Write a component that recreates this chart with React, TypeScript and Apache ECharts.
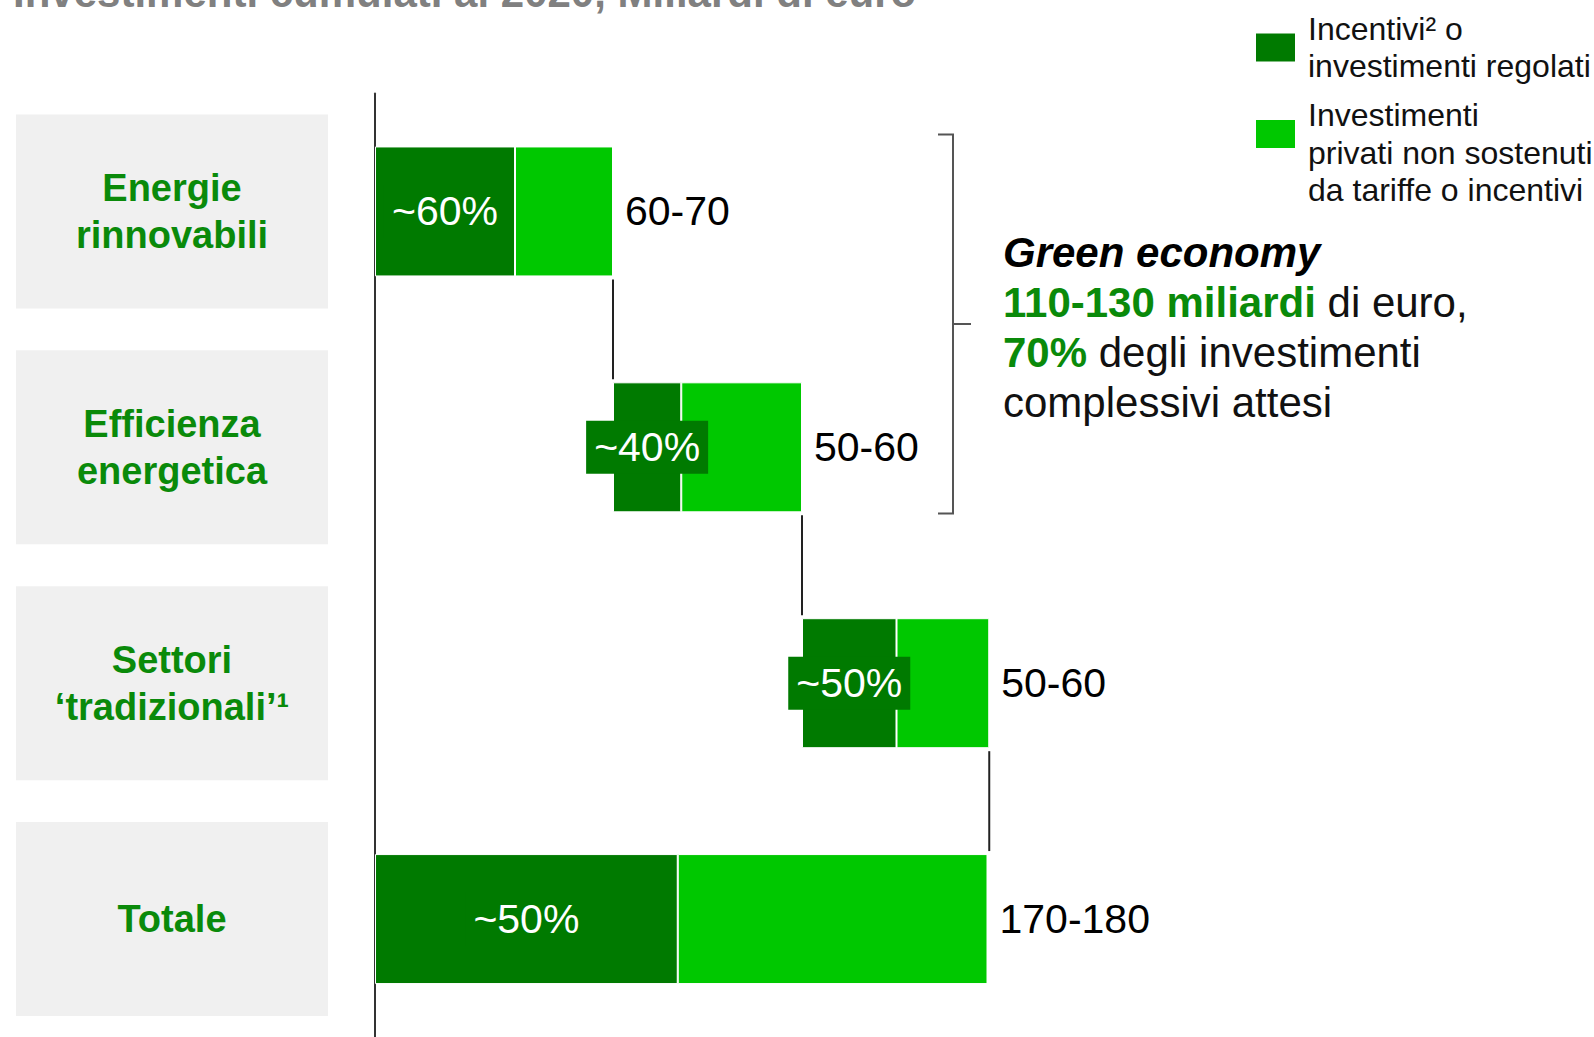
import React, { useEffect, useRef } from "react";
import * as echarts from "echarts";

const FONT = "'Liberation Sans', Arial, Helvetica, sans-serif";

const titleText = "Investimenti cumulati al 2020, Miliardi di euro";
const categories = ["Energie\nrinnovabili", "Efficienza\nenergetica", "Settori\n‘tradizionali’¹", "Totale"];
const regulatedValues = [40, 19.5, 27, 86.5];
const privateValues = [28, 34.5, 26.5, 88.5];
const shareLabels = ["~60%", "~40%", "~50%", "~50%"];
const rangeLabels = ["60-70", "50-60", "50-60", "170-180"];
const seriesNames = [
  "Incentivi² o\ninvestimenti regolati",
  "Investimenti\nprivati non sostenuti\nda tariffe o incentivi",
];
const noteText =
  "{b|Green economy}\n{g|110-130 miliardi}{n| di euro,}\n{g|70%}{n| degli investimenti}\n{n|complessivi attesi}";

const DARK = "#007a00";
const LIGHT = "#00c800";
const TEXT_GREEN = "#0a8a0a";
const BAR_W = 130;

export default function App() {
  const ref = useRef<HTMLDivElement>(null);

  useEffect(() => {
    if (!ref.current) return;
    const chart = echarts.init(ref.current, undefined, { renderer: "svg" });

    const last = categories.length - 1;
    const totals = regulatedValues.map((v, i) => v + privateValues[i]);
    const offsets: number[] = [];
    let acc = 0;
    categories.forEach((_, i) => {
      if (i === last) {
        offsets.push(0);
      } else {
        offsets.push(acc);
        acc += totals[i];
      }
    });
    const connectors = offsets.slice(0, last).map((o, i) => [o + totals[i], i]);

    const legendText = {
      fontFamily: FONT,
      fontSize: 32,
      lineHeight: 37.5,
      color: "#111",
      padding: [0, 0, 0, 7],
    };

    chart.setOption({
      animation: false,
      title: {
        text: titleText,
        left: 13,
        top: -29,
        padding: 0,
        textStyle: { fontFamily: FONT, fontSize: 42, fontWeight: "bold", color: "#808080" },
      },
      legend: [
        {
          data: [seriesNames[0]],
          left: 1254,
          top: 10,
          padding: 0,
          orient: "vertical",
          icon: "rect",
          itemWidth: 41,
          itemHeight: 30,
          selectedMode: false,
          textStyle: legendText,
        },
        {
          data: [seriesNames[1]],
          left: 1254,
          top: 59,
          padding: 0,
          orient: "vertical",
          icon: "rect",
          itemWidth: 41,
          itemHeight: 30,
          selectedMode: false,
          formatter: (name: string) => "\n" + name,
          textStyle: legendText,
        },
      ],
      grid: { left: 375, top: 93.5, width: 1050, height: 948 },
      xAxis: { type: "value", min: 0, max: 300, show: false },
      yAxis: {
        type: "category",
        inverse: true,
        data: categories,
        axisLine: { show: true, lineStyle: { color: "#333", width: 2 } },
        axisTick: { show: false },
        splitLine: { show: false },
        axisLabel: {
          margin: 203,
          align: "center",
          verticalAlign: "middle",
          width: 312,
          height: 194,
          backgroundColor: "#f0f0f0",
          color: TEXT_GREEN,
          fontFamily: FONT,
          fontWeight: "bold",
          fontSize: 38,
          lineHeight: 47,
        },
      },
      graphic: [
        {
          type: "polyline",
          shape: { points: [[938, 134.5], [953, 134.5], [953, 513.5], [938, 513.5]] },
          style: { stroke: "#555", lineWidth: 2, fill: null },
        },
        {
          type: "line",
          shape: { x1: 953, y1: 324, x2: 971, y2: 324 },
          style: { stroke: "#555", lineWidth: 2 },
        },
        {
          type: "text",
          x: 1003,
          y: 227,
          style: {
            text: noteText,
            verticalAlign: "top",
            rich: {
              b: { fontFamily: FONT, fontSize: 42, fontWeight: "bold", fontStyle: "italic", fill: "#000", lineHeight: 50 },
              g: { fontFamily: FONT, fontSize: 42, fontWeight: "bold", fill: TEXT_GREEN, lineHeight: 50 },
              n: { fontFamily: FONT, fontSize: 42, fill: "#111", lineHeight: 50 },
            },
          },
        },
      ],
      series: [
        {
          type: "bar",
          stack: "w",
          silent: true,
          barWidth: BAR_W,
          data: offsets,
          itemStyle: { color: "transparent" },
        },
        {
          name: seriesNames[0],
          type: "bar",
          stack: "w",
          barWidth: BAR_W,
          data: regulatedValues,
          itemStyle: { color: DARK, borderColor: "#fff", borderWidth: 1 },
          label: {
            show: true,
            position: "inside",
            formatter: (p: any) => shareLabels[p.dataIndex],
            color: "#fff",
            fontFamily: FONT,
            fontSize: 41,
            lineHeight: 45,
            backgroundColor: DARK,
            padding: [4, 8, 4, 8],
          },
        },
        {
          name: seriesNames[1],
          type: "bar",
          stack: "w",
          barWidth: BAR_W,
          data: privateValues,
          itemStyle: { color: LIGHT, borderColor: "#fff", borderWidth: 1 },
          label: {
            show: true,
            position: "right",
            distance: 12,
            formatter: (p: any) => rangeLabels[p.dataIndex],
            color: "#000",
            fontFamily: FONT,
            fontSize: 41,
          },
        },
        {
          type: "custom",
          silent: true,
          encode: { x: 0, y: 1 },
          data: connectors,
          renderItem: (params: any, api: any) => {
            const x = api.value(0);
            const ci = api.value(1);
            const p1 = api.coord([x, ci]);
            const p2 = api.coord([x, ci + 1]);
            const half = BAR_W / 2 + 3;
            return {
              type: "line",
              shape: { x1: p1[0], y1: p1[1] + half, x2: p2[0], y2: p2[1] - half },
              style: { stroke: "#222", lineWidth: 2 },
            };
          },
        },
      ],
    });

    return () => chart.dispose();
  }, []);

  return (
    <div
      ref={ref}
      style={{ position: "fixed", left: 0, top: 0, width: 1594, height: 1037, background: "#fff" }}
    />
  );
}
